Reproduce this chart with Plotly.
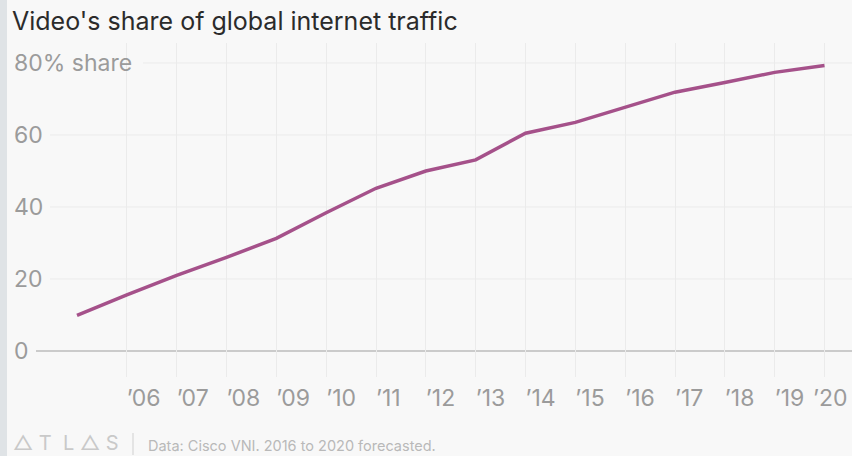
import plotly.graph_objects as go

# ---- data ----
years = list(range(2005, 2021))
video_share = [9.9, 15.6, 21.0, 26.0, 31.3, 38.4, 45.2, 50.0, 53.1, 60.5,
               63.5, 67.6, 71.9, 74.6, 77.4, 79.3]
x_tick_vals = list(range(2006, 2021))
x_tick_text = ["\u2019" + str(y)[2:] for y in x_tick_vals]
y_tick_vals = [0, 20, 40, 60, 80]
y_tick_text = ["0", "20", "40", "60", "80% share"]
title_text = "Video's share of global internet traffic"
source_text = "Data: Cisco VNI. 2016 to 2020 forecasted."
logo_text = "\u25B3 T  L \u25B3 S"

W, H = 852, 456
T, B = 43, 79
PH = H - T - B
FONT = "Inter, Roboto, Arial, sans-serif"
GRAY = "#9b9b9b"
BG = "#f8f8f8"

def px_to_paper_x(px):
    return px / W

def px_to_paper_y(py):
    return (H - B - py) / PH

fig = go.Figure()
fig.add_trace(go.Scatter(
    x=years, y=video_share, mode="lines",
    line=dict(color="#a5518a", width=3.5),
    hoverinfo="skip", showlegend=False,
))

shapes = []
# horizontal gridlines (start after tick labels)
grid_start = {0: 36, 20: 50, 40: 50, 60: 50, 80: 143}
for v in y_tick_vals:
    shapes.append(dict(
        type="line", xref="paper", yref="y",
        x0=px_to_paper_x(grid_start[v]), x1=1, y0=v, y1=v,
        line=dict(color="#bdbdbd" if v == 0 else "#ebebeb",
                  width=1.5 if v == 0 else 1),
        layer="below",
    ))
# left edge strip
shapes.append(dict(
    type="rect", xref="paper", yref="paper",
    x0=0, x1=px_to_paper_x(7), y0=px_to_paper_y(H), y1=px_to_paper_y(0),
    fillcolor="#dfe3e6", line=dict(width=0), layer="above",
))
# footer separator
shapes.append(dict(
    type="line", xref="paper", yref="paper",
    x0=px_to_paper_x(133), x1=px_to_paper_x(133),
    y0=px_to_paper_y(433), y1=px_to_paper_y(455),
    line=dict(color="#d0d0d0", width=1), layer="above",
))

annotations = []
for v, t in zip(y_tick_vals, y_tick_text):
    annotations.append(dict(
        x=px_to_paper_x(12), xref="paper", xanchor="left",
        y=v, yref="y", yanchor="middle",
        text=t, showarrow=False,
        font=dict(family=FONT, size=23, color=GRAY),
    ))
# last x tick label is nudged left so it stays inside the frame
annotations.append(dict(
    x=x_tick_vals[-1], xref="x", xanchor="right", xshift=25,
    y=px_to_paper_y(398), yref="paper", yanchor="middle",
    text=x_tick_text[-1], showarrow=False,
    font=dict(family=FONT, size=23, color=GRAY),
))
annotations.append(dict(
    x=px_to_paper_x(11), xref="paper", xanchor="left",
    y=px_to_paper_y(443), yref="paper", yanchor="middle",
    text=logo_text, showarrow=False,
    font=dict(family=FONT, size=20, color="#c9c9c9"),
))
annotations.append(dict(
    x=px_to_paper_x(146), xref="paper", xanchor="left",
    y=px_to_paper_y(445), yref="paper", yanchor="middle",
    text=source_text, showarrow=False,
    font=dict(family=FONT, size=14.5, color="#b9b9b9"),
))

tick_text_native = x_tick_text[:-1] + [""]

fig.update_layout(
    width=W, height=H,
    margin=dict(l=0, r=0, t=T, b=B),
    paper_bgcolor=BG, plot_bgcolor=BG,
    title=dict(text=title_text, x=px_to_paper_x(12), xref="container", xanchor="left",
               y=1 - 21 / H, yref="container", yanchor="middle",
               font=dict(family=FONT, size=25, color="#2b2b2b")),
    xaxis=dict(
        range=[2005 - 77 / 49.83, 2020 + 27.5 / 49.83],
        tickmode="array", tickvals=x_tick_vals, ticktext=tick_text_native,
        showgrid=True, gridcolor="#ebebeb", gridwidth=1,
        zeroline=False, showline=False, ticks="",
        ticklabelposition="outside right",
        ticklabelstandoff=5,
        tickfont=dict(family=FONT, size=23, color=GRAY),
        fixedrange=True,
    ),
    yaxis=dict(
        range=[-(H - B - 351) / 3.6, (351 - T) / 3.6],
        showgrid=False, zeroline=False, showticklabels=False,
        fixedrange=True,
    ),
    shapes=shapes,
    annotations=annotations,
    showlegend=False,
)

fig.write_html("out.html", config={"displayModeBar": False},
               post_script="document.body.style.margin='0';")
